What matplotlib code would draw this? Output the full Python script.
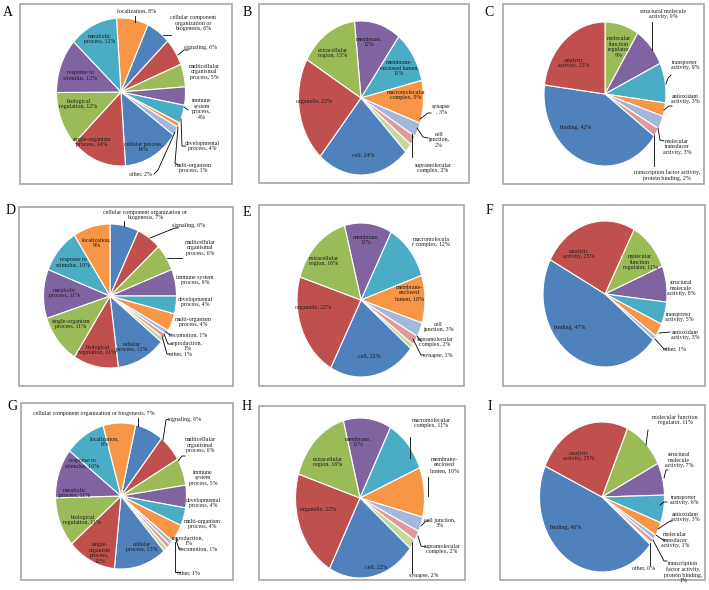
import matplotlib.pyplot as plt
from matplotlib.patches import Rectangle

plt.rcParams['font.family'] = ['Liberation Serif', 'DejaVu Serif']

# ---- data (clockwise from the first slice) ----
a_labels = ['localization, 8%', 'cellular component\norganization or\nbiogenesis, 6%', 'signaling, 6%',
            'multicellular\norganismal\nprocess, 5%', 'immune\nsystem\nprocess,\n4%', 'developmental\nprocess, 4%',
            'multi-organism\nprocess, 1%', 'other, 2%', 'cellular process,\n14%', 'single-organism\nprocess, 14%',
            'biological\nregulation, 12%', 'response to\nstimulus, 12%', 'metabolic\nprocess, 12%']
a_values = [8, 6, 6, 5, 4, 4, 1, 2, 14, 14, 12, 12, 12]

b_labels = ['membrane,\n12%', 'membrane-\nenclosed lumen,\n11%', 'macromolecular\ncomplex, 9%', 'synapse\n, 3%',
            'cell\njunction,\n2%', 'supramolecular\ncomplex, 2%', 'cell, 24%', 'organelle, 22%',
            'extracellular\nregion, 15%']
b_values = [12, 11, 9, 3, 2, 2, 24, 22, 15]

c_labels = ['molecular\nfunction\nregulator\n9%', 'structural molecule\nactivity, 9%', 'transporter\nactivity, 9%',
            'antioxidant\nactivity, 3%', 'molecular\ntransducer\nactivity, 3%',
            'transcription factor activity,\nprotein binding, 2%', 'binding, 42%', 'catalytic\nactivity, 23%']
c_values = [9, 9, 9, 3, 3, 2, 42, 23]

d_labels = ['cellular component organization or\nbiogenesis, 7%', 'signaling, 6%',
            'multicellular\norganismal\nprocess, 6%', 'immune system\nprocess, 6%', 'developmental\nprocess, 4%',
            'multi-organism\nprocess, 4%', 'locomotion, 1%', 'reproduction,\n1%', 'other, 1%',
            'cellular\nprocess, 12%', 'biological\nregulation, 11%', 'single-organism\nprocess, 11%',
            'metabolic\nprocess, 11%', 'response to\nstimulus, 10%', 'localization,\n9%']
d_values = [7, 6, 6, 6, 4, 4, 1, 1, 1, 12, 11, 11, 11, 10, 9]

e_labels = ['membrane,\n12%', 'macromolecula\nr complex, 12%', 'membrane-\nenclosed\nlumen, 10%',
            'cell\njunction, 3%', 'supramolecular\ncomplex, 2%', 'synapse, 1%', 'cell, 22%',
            'organelle, 22%', 'extracellular\nregion, 16%']
e_values = [12, 12, 10, 3, 2, 1, 22, 22, 16]

f_labels = ['molecular\nfunction\nregulator, 11%', 'structural\nmolecule\nactivity, 8%', 'transporter\nactivity, 5%',
            'antioxidant\nactivity, 3%', 'other, 1%', 'binding, 47%', 'catalytic\nactivity, 25%']
f_values = [11, 8, 5, 3, 1, 47, 25]

g_labels = ['cellular component organization or biogenesis, 7%', 'signaling, 6%',
            'multicellular\norganismal\nprocess, 6%', 'immune\nsystem\nprocess, 5%', 'developmental\nprocess, 4%',
            'multi-organism\nprocess, 4%', 'reproduction,\n1%', 'locomotion, 1%', 'other, 1%',
            'cellular\nprocess, 13%', 'single-\norganism\nprocess,\n12%', 'biological\nregulation, 11%',
            'metabolic\nprocess, 11%', 'response to\nstimulus, 10%', 'localization,\n8%']
g_values = [7, 6, 6, 5, 4, 4, 1, 1, 1, 13, 12, 11, 11, 10, 8]

h_labels = ['membrane,\n12%', 'macromolecular\ncomplex, 11%', 'membrane-\nenclosed\nlumen, 10%',
            'cell junction,\n3%', 'supramolecular\ncomplex, 2%', 'synapse, 2%', 'cell, 22%',
            'organelle, 22%', 'extracellular\nregion, 16%']
h_values = [12, 11, 10, 3, 2, 2, 22, 22, 16]

i_labels = ['molecular function\nregulator, 11%', 'structural\nmolecule\nactivity, 7%', 'transporter\nactivity, 6%',
            'antioxidant\nactivity, 3%', 'molecular\ntransducer\nactivity, 1%',
            'transcription\nfactor activity,\nprotein binding,\n1%', 'other, 0%', 'binding, 46%',
            'catalytic\nactivity, 25%']
i_values = [11, 7, 6, 3, 1, 1, 0.4, 46, 25]

# ---- colours ----
BL, RD, GR, PU, AQ, OR = '#4F81BD', '#C0504D', '#9BBB59', '#8064A2', '#4BACC6', '#F79646'
LB, PK, LG = '#A3B9DC', '#DD9C9A', '#C5D89E'

W, H = 709, 590
fig = plt.figure(figsize=(W / 100, H / 100), dpi=100)
bg = fig.add_axes([0, 0, 1, 1])
bg.set_xlim(0, W)
bg.set_ylim(H, 0)
bg.axis('off')

# panel: letter, box, pie geometry (px), start offset (deg), colours, label positions, leader lines
panels = [
    dict(letter='A', lp=(8, 13), box=(20, 4, 232, 184), pie=(121, 92, 64.5, 74), off=-4,
         labels=a_labels, values=a_values,
         colors=[OR, BL, RD, GR, PU, AQ, OR, LB, BL, RD, GR, PU, AQ],
         pos=[(137, 11), (193, 23), (200, 48), (204, 72), (202, 109), (202, 146), (193, 168), (140, 174),
              (143, 147), (92, 142), (78, 104), (80, 75), (100, 39)],
         lines=[[(135, 16), (135, 22)], [(163, 35), (171, 35)], [(178, 55), (184, 50), (188, 50)],
                [(184, 107), (188, 110)], [(181, 119), (182, 146), (186, 146)],
                [(178, 127), (175, 163), (178, 165)], [(175, 132), (158, 170), (154, 174)]]),
    dict(letter='B', lp=(247, 13), box=(259, 4, 469, 183), pie=(361, 98, 62.5, 77), off=-6,
         labels=b_labels, values=b_values,
         colors=[PU, AQ, OR, LB, PK, LG, BL, RD, GR],
         pos=[(369, 42), (399, 68), (406, 95), (441, 109), (439, 140), (433, 168), (363, 155), (314, 101),
              (333, 53)],
         lines=[[(420, 119), (428, 113), (431, 113)], [(417, 128), (423, 137), (428, 138)],
                [(412, 134), (412, 157)]]),
    dict(letter='C', lp=(489, 13), box=(503, 4, 704, 184), pie=(605, 94, 61, 72), off=0,
         labels=c_labels, values=c_values,
         colors=[GR, PU, AQ, OR, LB, PK, BL, RD],
         pos=[(619, 47), (663, 14), (685, 65), (685, 99), (677, 147), (667, 175), (575, 127), (574, 63)],
         lines=[[(652, 22), (652, 50)], [(666, 84), (668, 78), (671, 75)], [(664, 110), (669, 106), (672, 106)],
                [(658, 128), (660, 140), (664, 141)], [(654, 135), (654, 166)]]),
    dict(letter='D', lp=(11, 211), box=(19, 207, 233, 386), pie=(110, 296, 66.5, 72), off=0,
         labels=d_labels, values=d_values,
         colors=[BL, RD, GR, PU, AQ, OR, LB, PK, LG, BL, RD, GR, PU, AQ, OR],
         pos=[(145, 215), (188, 226), (200, 248), (195, 280), (195, 302), (193, 322), (188, 335), (187, 346),
              (180, 354), (132, 347), (97, 350), (71, 324), (65, 293), (73, 262), (97, 243)],
         lines=[[(124, 221), (124, 226)], [(150, 238), (175, 228), (178, 228)], [(167, 258), (182, 258)],
                [(166, 332), (170, 335), (172, 335)], [(164, 334), (168, 344), (171, 344)],
                [(162, 336), (167, 354), (170, 354)]]),
    dict(letter='E', lp=(247, 212), box=(259, 205, 464, 386), pie=(361, 300, 64, 77), off=-15,
         labels=e_labels, values=e_values,
         colors=[PU, AQ, OR, LB, PK, LG, BL, RD, GR],
         pos=[(366, 240), (431, 242), (409, 293), (438, 327), (435, 342), (438, 355), (369, 356), (313, 308),
              (324, 261)],
         lines=[[(417, 336), (421, 341)], [(413, 339), (421, 355), (424, 355)]]),
    dict(letter='F', lp=(489, 211), box=(503, 205, 705, 386), pie=(605, 294, 62, 73), off=28,
         labels=f_labels, values=f_values,
         colors=[GR, PU, AQ, OR, LB, BL, RD],
         pos=[(640, 262), (681, 288), (679, 317), (685, 335), (674, 349), (569, 327), (579, 254)],
         lines=[[(659, 333), (670, 332)], [(655, 339), (664, 349), (667, 349)]]),
    dict(letter='G', lp=(12, 407), box=(21, 403, 233, 580), pie=(121, 496, 65.5, 73), off=13,
         labels=g_labels, values=g_values,
         colors=[BL, RD, GR, PU, AQ, OR, LB, PK, LG, BL, RD, GR, PU, AQ, OR],
         pos=[(94, 413), (185, 419), (200, 445), (203, 478), (203, 503), (202, 524), (188, 541), (198, 549),
              (188, 573), (142, 547), (100, 553), (82, 520), (75, 493), (82, 463), (105, 442)],
         lines=[[(138, 418), (138, 426)], [(163, 440), (166, 420), (169, 419)],
                [(178, 461), (182, 456), (185, 456)], [(176, 538), (178, 541)],
                [(176, 540), (179, 549), (182, 549)], [(175, 542), (175, 572), (180, 572)]]),
    dict(letter='H', lp=(247, 407), box=(259, 406, 465, 580), pie=(360, 498, 64.5, 80), off=-15,
         labels=h_labels, values=h_values,
         colors=[PU, AQ, OR, LB, PK, LG, BL, RD, GR],
         pos=[(358, 442), (431, 423), (444, 465), (440, 523), (442, 549), (424, 576), (376, 567), (318, 510),
              (328, 462)],
         lines=[[(410, 437), (410, 458)], [(428, 477), (428, 496)], [(421, 526), (426, 521), (429, 521)],
                [(418, 536), (421, 546), (425, 547)], [(412, 542), (412, 573)]]),
    dict(letter='I', lp=(490, 407), box=(500, 405, 705, 580), pie=(602, 497, 62.5, 75), off=24,
         labels=i_labels, values=i_values,
         colors=[GR, PU, AQ, OR, LB, PK, LG, BL, RD],
         pos=[(675, 420), (679, 460), (684, 500), (685, 517), (675, 540), (683, 572), (644, 568), (565, 528),
              (579, 456)],
         lines=[[(648, 430), (646, 445)], [(664, 478), (666, 470), (668, 470)],
                [(660, 505), (664, 502), (667, 502)], [(658, 529), (670, 521), (672, 521)],
                [(656, 535), (663, 540), (666, 540)], [(653, 540), (664, 561), (667, 561)],
                [(650, 543), (650, 565)]]),
]

for p in panels:
    x0, y0, x1, y1 = p['box']
    bg.add_patch(Rectangle((x0, y0), x1 - x0, y1 - y0, fill=False, edgecolor='#A6A6A6', linewidth=1.2))
    bg.text(p['lp'][0], p['lp'][1], p['letter'], fontsize=10, ha='center', va='center', color='black')

for p in panels:
    cx, cy, rx, ry = p['pie']
    ax = fig.add_axes([(cx - rx) / W, 1 - (cy + ry) / H, 2 * rx / W, 2 * ry / H])
    ax.pie(p['values'], colors=p['colors'], startangle=90 - p['off'], counterclock=False,
           wedgeprops=dict(edgecolor='white', linewidth=0.8))
    ax.set_aspect('auto')
    ax.set_xlim(-1, 1)
    ax.set_ylim(-1, 1)
    ax.axis('off')

top = fig.add_axes([0, 0, 1, 1])
top.set_xlim(0, W)
top.set_ylim(H, 0)
top.axis('off')
top.patch.set_alpha(0)
for p in panels:
    for lab, (x, y) in zip(p['labels'], p['pos']):
        top.text(x, y, lab, fontsize=4.2, ha='center', va='center', multialignment='center',
                 color='#1a1a1a', linespacing=1.1)
    for ln in p['lines']:
        xs = [q[0] for q in ln]
        ys = [q[1] for q in ln]
        top.plot(xs, ys, color='black', linewidth=0.6)

fig.savefig('out.png', dpi=100, facecolor='white')
